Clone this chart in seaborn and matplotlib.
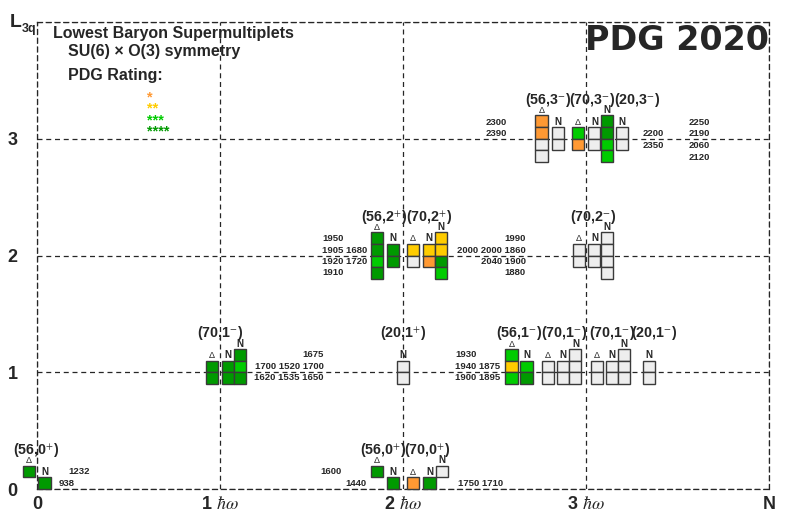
import matplotlib
matplotlib.use('Agg')
import matplotlib.pyplot as plt
import seaborn as sns

# ---- values ----
# one entry per column of boxes
particles = ['Δ', 'N', 'Δ', 'N', 'Δ', 'N', 'N',
             'Δ', 'N', 'N', 'N', 'Δ', 'N', 'Δ', 'N', 'N', 'Δ', 'N', 'N', 'N',
             'Δ', 'N', 'Δ', 'N', 'N', 'Δ', 'N', 'N',
             'Δ', 'N', 'Δ', 'N', 'N', 'N']
L_values = [0] * 7 + [1] * 13 + [2] * 8 + [3] * 6
# PDG rating of each box, top to bottom (4 = ****, ..., 1 = *, 0 = not seen)
ratings = [[4], [4], [4], [4], [1], [4], [0],
           [4, 4], [4, 4], [4, 3, 4], [0, 0], [3, 2, 3], [3, 4],
           [0, 0], [0, 0], [0, 0, 0], [0, 0], [0, 0], [0, 0, 0], [0, 0],
           [4, 4, 3, 4], [4, 4], [2, 0], [2, 1], [2, 2, 4, 3],
           [0, 0], [0, 0], [0, 0, 0, 0],
           [1, 1, 0, 0], [0, 0], [3, 1], [0, 0], [4, 4, 3, 3], [0, 0]]

multiplets = ['(56,0$^{+}$)', '(56,0$^{+}$)', '(70,0$^{+}$)',
              '(70,1$^{-}$)', '(20,1$^{+}$)', '(56,1$^{-}$)', '(70,1$^{-}$)',
              '(70,1$^{-}$)', '(20,1$^{-}$)',
              '(56,2$^{+}$)', '(70,2$^{+}$)', '(70,2$^{-}$)',
              '(56,3$^{-}$)', '(70,3$^{-}$)', '(20,3$^{-}$)']

masses = ['1232', '938', '1600', '1440', '1750 1710',
          '1675', '1700 1520 1700', '1620 1535 1650',
          '1930', '1940 1875', '1900 1895',
          '1950', '1905 1680', '1920 1720', '1910',
          '1990', '2000 2000 1860', '2040 1900', '1880',
          '2300', '2390', '2200', '2350',
          '2250', '2190', '2060', '2120']

star_labels = ['*', '**', '***', '****']
x_tick_labels = ['0', r'1 $\hbar\omega$', r'2 $\hbar\omega$', r'3 $\hbar\omega$', 'N']
y_tick_labels = ['0', '1', '2', '3', '']

# ---- layout ----
col_x = [-0.046, 0.041, 1.858, 1.945, 2.055, 2.145, 2.212,
         0.956, 1.044, 1.110, 2.0, 2.593, 2.675, 2.792, 2.875, 2.942,
         3.060, 3.142, 3.209, 3.344,
         1.858, 1.945, 2.055, 2.142, 2.209, 2.962, 3.046, 3.113,
         2.757, 2.847, 2.956, 3.046, 3.113, 3.197]
col_top = [2, 1, 2, 1, 1, 1, 2,
           1, 1, 2, 1, 2, 1, 1, 1, 2, 1, 1, 2, 1,
           2, 1, 1, 1, 2, 1, 1, 2,
           2, 1, 1, 1, 2, 1]
multiplet_pos = [(-0.005, 0.335), (1.892, 0.335), (2.133, 0.335),
                 (1.0, 1.337), (2.0, 1.337), (2.635, 1.337), (2.880, 1.337),
                 (3.142, 1.337), (3.374, 1.337),
                 (1.896, 2.33), (2.140, 2.33), (3.04, 2.33),
                 (2.795, 3.33), (3.035, 3.33), (3.281, 3.33)]
mass_pos = [(0.169, 0.146, 'left'), (0.12, 0.051, 'left'),
            (1.546, 0.146, 'left'), (1.683, 0.051, 'left'), (2.30, 0.051, 'left'),
            (1.568, 1.148, 'right'), (1.568, 1.045, 'right'), (1.568, 0.951, 'right'),
            (2.284, 1.148, 'left'), (2.284, 1.045, 'left'), (2.284, 0.951, 'left'),
            (1.557, 2.142, 'left'), (1.557, 2.039, 'left'), (1.557, 1.945, 'left'),
            (1.557, 1.851, 'left'),
            (2.672, 2.142, 'right'), (2.672, 2.039, 'right'), (2.672, 1.945, 'right'),
            (2.672, 1.851, 'right'),
            (2.454, 3.136, 'left'), (2.454, 3.042, 'left'),
            (3.311, 3.042, 'left'), (3.311, 2.939, 'left'),
            (3.563, 3.136, 'left'), (3.563, 3.042, 'left'), (3.563, 2.939, 'left'),
            (3.563, 2.836, 'left')]

rating_colors = {4: '#009a00', 3: '#00cc00', 2: '#ffcc00', 1: '#ff9933', 0: '#eeeeee'}
box_w, box_h = 0.066, 0.1
dash = (0, (4, 3))

sns.set_theme(style='white')
plt.rcParams['font.family'] = ['Liberation Sans', 'DejaVu Sans']
plt.rcParams['mathtext.fontset'] = 'stix'

W, H = 807, 524
fig = plt.figure(figsize=(W / 100, H / 100), dpi=100)
ax = fig.add_axes([37 / W, 35 / H, 732 / W, 467 / H])


def px(x, y):
    return x / W, 1 - y / H


# boxes, one column at a time
for x, L, top, rs, p in zip(col_x, L_values, col_top, ratings, particles):
    bottoms = [L + (top - i - 1) * box_h for i in range(len(rs))]
    ax.bar([x] * len(rs), [box_h] * len(rs), width=box_w, bottom=bottoms,
           color=[rating_colors[r] for r in rs], edgecolor='#3a3a3a',
           linewidth=1.0, zorder=3, clip_on=False)
    if p == 'N':
        ax.text(x, L + top * box_h + 0.02, p, ha='center', va='baseline',
                fontsize=7, fontweight='bold', zorder=4)
    else:
        ax.text(x, L + top * box_h + 0.02, p, ha='center', va='baseline',
                fontsize=6.5, zorder=4)

for name, (x, y) in zip(multiplets, multiplet_pos):
    ax.text(x, y, name, ha='center', va='center', fontsize=10.3,
            fontweight='bold', zorder=4)

for m, (x, y, ha) in zip(masses, mass_pos):
    ax.text(x, y, m, ha=ha, va='center', fontsize=6.8, fontweight='bold', zorder=4)

ax.set_xlim(0, 4)
ax.set_ylim(0, 4)
ax.set_xticks(range(5))
ax.set_xticklabels(x_tick_labels, fontsize=13, fontweight='bold')
ax.set_yticks(range(5))
ax.set_yticklabels(y_tick_labels, fontsize=13, fontweight='bold')
ax.tick_params(length=0, pad=5)
ax.tick_params(axis='y', pad=14)
ax.set_axisbelow(True)
ax.grid(True, color='0.15', linestyle=dash, linewidth=0.9)
for s in ax.spines.values():
    s.set_visible(True)
    s.set_linestyle(dash)
    s.set_color('0.15')
    s.set_linewidth(0.9)

# corner texts
fig.text(*px(10, 27), 'L', fontsize=14, fontweight='bold', va='baseline')
fig.text(*px(22, 32), '3q', fontsize=9, fontweight='bold', va='baseline')
fig.text(*px(53, 38), 'Lowest Baryon Supermultiplets', fontsize=11.5,
         fontweight='bold', va='baseline')
fig.text(*px(68, 56), 'SU(6) × O(3) symmetry', fontsize=11.5,
         fontweight='bold', va='baseline')
fig.text(*px(68, 80), 'PDG Rating:', fontsize=11.5, fontweight='bold', va='baseline')
for i, s in enumerate(star_labels):
    fig.text(*px(147, 101 + 11.5 * i), s, fontsize=10.5, fontweight='bold',
             color=rating_colors[i + 1], va='baseline')
fig.text(*px(585, 50), 'PDG 2020', fontsize=24, fontweight='bold',
         family='DejaVu Sans', va='baseline', zorder=5)

fig.savefig('out.png', dpi=100)
